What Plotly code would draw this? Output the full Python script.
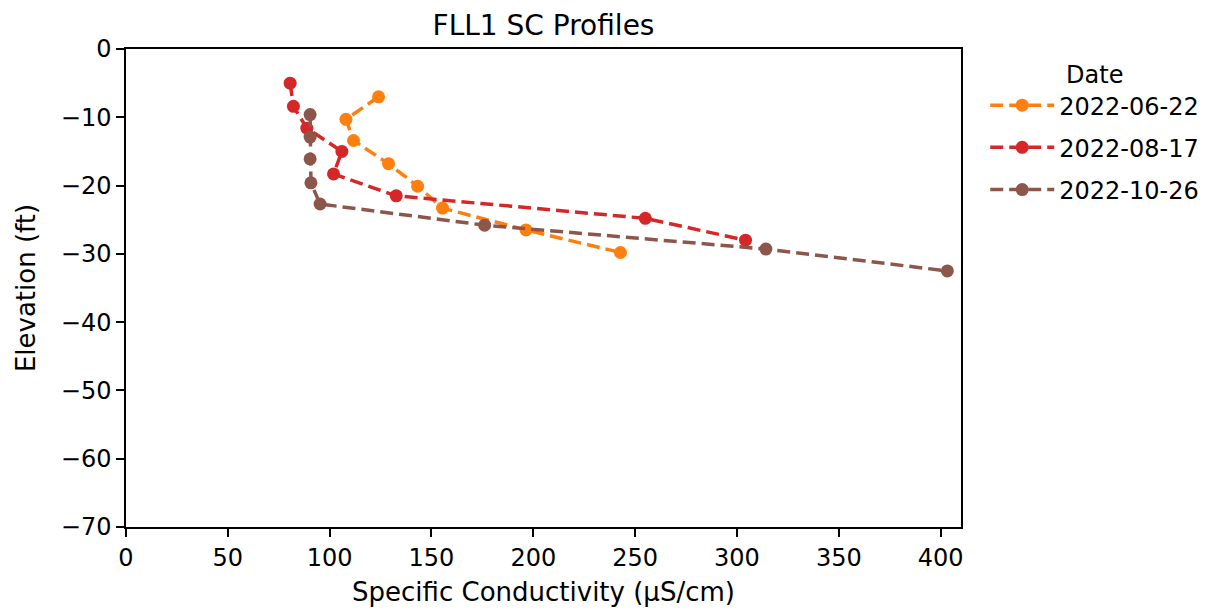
import plotly.graph_objects as go

# profile data
dates = ["2022-06-22", "2022-08-17", "2022-10-26"]
colors = ["#ff7f0e", "#d62728", "#8c564b"]

sc_0622 = [124.0, 108.0, 111.7, 128.9, 143.2, 155.4, 196.4, 242.8]
elev_0622 = [-7.0, -10.3, -13.4, -16.8, -20.1, -23.3, -26.5, -29.8]

sc_0817 = [80.6, 82.2, 88.8, 106.0, 101.9, 132.7, 255.0, 304.2]
elev_0817 = [-5.0, -8.4, -11.6, -15.0, -18.3, -21.5, -24.8, -28.0]

sc_1026 = [90.4, 90.4, 90.4, 90.8, 95.3, 176.1, 314.2, 403.3]
elev_1026 = [-9.6, -12.9, -16.1, -19.6, -22.7, -25.8, -29.3, -32.5]

x_ticks = [0, 50, 100, 150, 200, 250, 300, 350, 400]
y_ticks = [0, -10, -20, -30, -40, -50, -60, -70]

series = [(sc_0622, elev_0622), (sc_0817, elev_0817), (sc_1026, elev_1026)]

fig = go.Figure()
for (sc, elev), name, col in zip(series, dates, colors):
    fig.add_trace(go.Scatter(
        x=sc, y=elev, name=name, mode="lines+markers",
        legendgroup=name,
        line=dict(color=col, width=3.5, dash="13px,6px"),
        marker=dict(color=col, size=13),
    ))

font = "DejaVu Sans, sans-serif"
axis_style = dict(
    showline=True, linecolor="black", linewidth=1.5, mirror=True,
    ticks="outside", ticklen=8, tickwidth=1.5, tickcolor="black",
    showgrid=False, zeroline=False,
    tickfont=dict(family=font, size=24, color="black"),
)

# the page body adds an 8px offset, margins are corrected for it
fig.update_layout(
    width=1224, height=611,
    margin=dict(l=118, r=271, t=41, b=92),
    plot_bgcolor="white", paper_bgcolor="white",
    font=dict(family=font, color="black"),
    title=dict(text="FLL1 SC Profiles", x=(118 + 953) / 2 / 1224, xanchor="center",
               y=1 - 17 / 611, yanchor="middle", font=dict(size=28)),
    legend=dict(
        title=dict(text="Date", side="top center", font=dict(size=24)),
        x=1.029, xanchor="left", y=0.994, yanchor="top",
        font=dict(size=24), tracegroupgap=8,
        itemwidth=64,
    ),
)
fig.update_xaxes(axis_style, range=[0, 410], tickvals=x_ticks,
                 title=dict(text="Specific Conductivity (µS/cm)", font=dict(size=26), standoff=12))
fig.update_yaxes(axis_style, range=[-70, 0], tickvals=y_ticks,
                 title=dict(text="Elevation (ft)", font=dict(size=26), standoff=18))

fig.write_html("out.html")
